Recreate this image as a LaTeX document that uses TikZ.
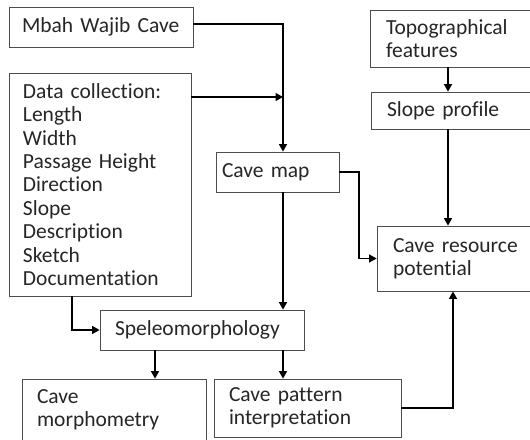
\documentclass[tikz,border=0pt]{standalone}
\usepackage{fontspec}
\setmainfont{Carlito}[Ligatures={NoCommon}]
\usetikzlibrary{arrows.meta,calc}
\begin{document}
\begin{tikzpicture}[x=1pt,y=-1pt,
  box/.style={draw=black!70,line width=0.8pt,rectangle,align=left,inner ysep=0pt,
    font=\fontsize{21.5}{23.4}\selectfont,text=black!85},
  conn/.style={line width=1.3pt,-{Triangle[length=7.5pt,width=8pt]}}]
\useasboundingbox (0,0) rectangle (530,439);
\clip (0,0) rectangle (530,439);
\fill[white] (0,0) rectangle (530,439);
% boxes
\node[box,minimum width=184pt,minimum height=40pt,inner xsep=13pt,text width=158pt] (mbah) at (101,27) {Mbah Wajib Cave};
\node[box,minimum width=182pt,minimum height=223pt,inner xsep=14pt,text width=154pt] (data) at (100,184.5)
  {Data collection:\\Length\\Width\\Passage Height\\Direction\\Slope\\Description\\Sketch\\Documentation};
\node[box,minimum width=123pt,minimum height=40pt,inner xsep=6pt,text width=111pt] (cavemap) at (277.5,172) {Cave map};
\node[box,minimum width=166pt,minimum height=57pt,inner xsep=16pt,text width=134pt] (topo) at (453,38.5) {Topographical\\features};
\node[box,minimum width=165pt,minimum height=37pt,inner xsep=16pt,text width=133pt] (slope) at (453.5,110.5) {Slope profile};
\node[box,minimum width=159pt,minimum height=65pt,inner xsep=16pt,text width=127pt] (resource) at (456.5,258.5) {Cave resource\\potential};
\node[box,minimum width=204pt,minimum height=40pt,inner xsep=15pt,text width=174pt] (speleo) at (202,330) {Speleomorphology};
\node[box,minimum width=184pt,minimum height=62pt,inner xsep=15pt,text width=154pt] (morph) at (114,410) {Cave\\morphometry};
\node[box,minimum width=187pt,minimum height=58pt,inner xsep=15pt,text width=157pt] (pattern) at (307.5,408) {Cave pattern\\interpretation};
% helper columns
\coordinate (colA) at (283,0);
\coordinate (colB) at (448,0);
\coordinate (colC) at (359,0);
\coordinate (colD) at (72,0);
\coordinate (colE) at (155,0);
\coordinate (colF) at (453,0);
\coordinate (rowA) at (0,24);
\coordinate (rowB) at (0,97);
% connectors
\draw[conn] (mbah.east |- rowA) -| (colA |- cavemap.north);
\draw[conn] (data.east |- rowB) -- (colA |- rowB);
\draw[conn] (colB |- topo.south) -- (colB |- slope.north);
\draw[conn] (colB |- slope.south) -- (colB |- resource.north);
\draw[conn] (cavemap.east) -| (colC |- resource.west) -- (resource.west);
\draw[conn] (colA |- cavemap.south) -- (colA |- speleo.north);
\draw[conn] (colD |- data.south) |- (speleo.west);
\draw[conn] (colE |- speleo.south) -- (colE |- morph.north);
\draw[conn] (colA |- speleo.south) -- (colA |- pattern.north);
\draw[conn] (pattern.east) -| (colF |- resource.south);
\end{tikzpicture}
\end{document}
